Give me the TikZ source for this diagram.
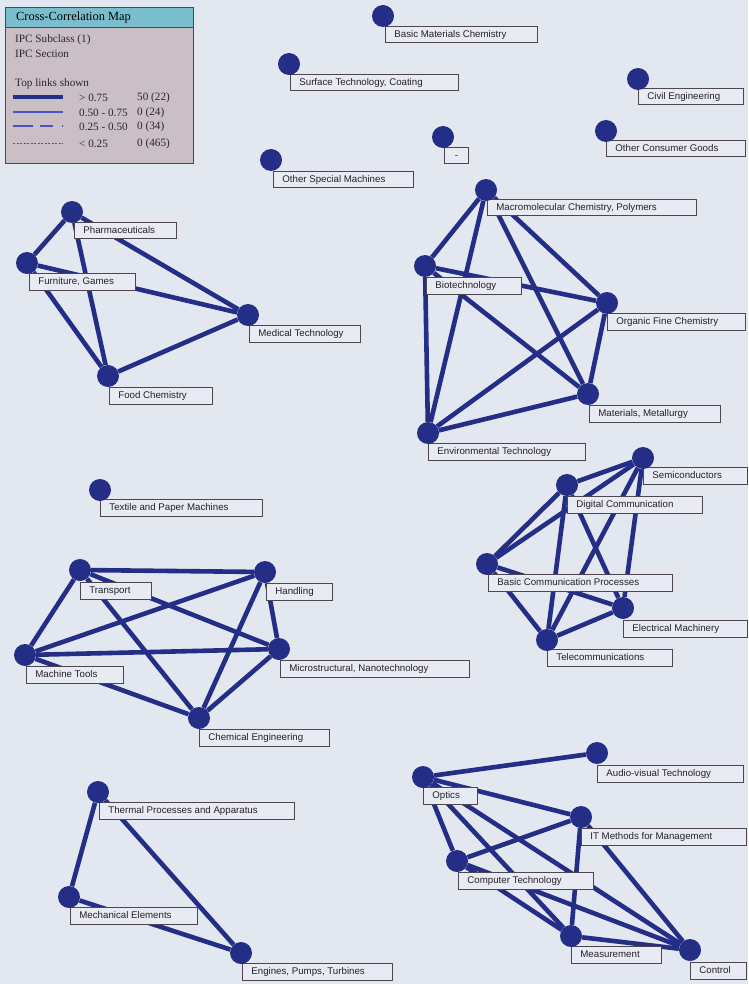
\documentclass[tikz,border=0pt]{standalone}
\usepackage{fontspec}
\setmainfont{Liberation Sans}
\newfontfamily\legfont{Liberation Serif}
\definecolor{bgc}{RGB}{227,231,240}
\definecolor{boxc}{RGB}{232,235,243}
\definecolor{navy}{RGB}{36,46,134}
\definecolor{bordc}{RGB}{78,70,76}
\definecolor{txtc}{RGB}{38,32,38}
\definecolor{legbg}{RGB}{201,191,197}
\definecolor{legtitle}{RGB}{122,190,206}
\definecolor{legtxt}{RGB}{48,36,48}
\definecolor{thinblue}{RGB}{72,82,200}
\pgfdeclarelayer{back}
\pgfdeclarelayer{links}
\pgfsetlayers{back,links,main}
\tikzset{
  hub/.style={circle, fill=navy, draw=none, minimum size=22pt, inner sep=0pt},
  lnk/.style={draw=navy, line width=4.6pt},
  lbl/.style={draw=bordc, line width=0.8pt, fill=boxc, anchor=north west,
    inner xsep=0pt, inner ysep=0pt, minimum height=16.5pt,
    text height=7.2pt, text depth=2pt, text=txtc,
    font=\fontsize{9.7}{11}\selectfont},
  legtext/.style={anchor=west, inner sep=0pt, text=legtxt,
    font=\legfont\fontsize{11.2}{12}\selectfont},
}
\newcommand\mylabel[5]{\node[lbl] (#4) at (#1,#2) {\makebox[#3pt][l]{\hspace{9pt}#5}};}
\begin{document}
\begin{tikzpicture}[x=1pt,y=-1pt]
\useasboundingbox (0,0) rectangle (748,984);
\begin{pgfonlayer}{back}
\fill[bgc] (0,0) rectangle (748,984);
\end{pgfonlayer}

% ---------- legend ----------
\filldraw[fill=legbg, draw=bordc, line width=0.8pt] (5,7) rectangle (193,163);
\filldraw[fill=legtitle, draw=bordc, line width=0.6pt] (5,7) rectangle (193,27);
\node[legtext, text={RGB:red,40;green,52;blue,96}, font=\legfont\fontsize{12.4}{13}\selectfont] (legT) at (16,17.5) {Cross-Correlation Map};
\node[legtext] (legA) at (15,40) {IPC Subclass (1)};
\node[legtext] (legB) at (15,54) {IPC Section};
\node[legtext] (legC) at (15,84) {Top links shown};
\node[legtext] (r1a) at (79,98) {> 0.75};
\node[legtext] (r1b) at (137,98) {50 (22)};
\node[legtext] (r2a) at (79,113) {0.50 - 0.75};
\node[legtext] (r2b) at (137,113) {0 (24)};
\node[legtext] (r3a) at (79,127) {0.25 - 0.50};
\node[legtext] (r3b) at (137,127) {0 (34)};
\node[legtext] (r4a) at (79,144) {< 0.25};
\node[legtext] (r4b) at (137,144) {0 (465)};
\draw[navy, line width=3.4pt] (13,97) -- (63,97);
\draw[thinblue, line width=1.2pt] (13,112) -- (63,112);
\draw[thinblue, line width=1.2pt, dash pattern=on 20pt off 7pt on 13pt off 9pt on 1.5pt off 5pt] (13,126) -- (63,126);
\draw[thinblue, line width=0.9pt, dash pattern=on 2pt off 1.5pt] (13,143) -- (63,143);

% ---------- labels ----------
\mylabel{385}{26}{152}{bmcl}{Basic Materials Chemistry}
\mylabel{290}{74}{168}{stcl}{Surface Technology, Coating}
\mylabel{638}{88}{105}{civl}{Civil Engineering}
\node[lbl] (dashl) at (444,147) {\makebox[24pt][c]{-}};
\mylabel{606}{140}{139}{ocgl}{Other Consumer Goods}
\mylabel{273}{171}{140}{osml}{Other Special Machines}
\mylabel{74}{222}{102}{phal}{Pharmaceuticals}
\mylabel{29}{273}{106}{furl}{Furniture, Games}
\mylabel{249}{325}{111}{medl}{Medical Technology}
\mylabel{109}{387}{103}{foodl}{Food Chemistry}
\mylabel{487}{199}{209}{macl}{Macromolecular Chemistry, Polymers}
\mylabel{426}{277}{95}{biol}{Biotechnology}
\mylabel{607}{313}{138}{ofcl}{Organic Fine Chemistry}
\mylabel{589}{405}{131}{matl}{Materials, Metallurgy}
\mylabel{428}{443}{157}{envl}{Environmental Technology}
\mylabel{643}{467}{104}{semil}{Semiconductors}
\mylabel{567}{496}{135}{digl}{Digital Communication}
\mylabel{488}{574}{184}{bcpl}{Basic Communication Processes}
\mylabel{623}{620}{124}{elml}{Electrical Machinery}
\mylabel{547}{649}{125}{tell}{Telecommunications}
\mylabel{100}{499}{162}{texl}{Textile and Paper Machines}
\mylabel{80}{582}{71}{tral}{Transport}
\mylabel{266}{583}{66}{hanl}{Handling}
\mylabel{280}{660}{189}{micl}{Microstructural, Nanotechnology}
\mylabel{26}{666}{97}{mtll}{Machine Tools}
\mylabel{199}{729}{130}{chel}{Chemical Engineering}
\mylabel{597}{765}{146}{audl}{Audio-visual Technology}
\mylabel{423}{787}{54}{optl}{Optics}
\mylabel{581}{828}{165}{itml}{IT Methods for Management}
\mylabel{458}{872}{135}{cmpl}{Computer Technology}
\mylabel{571}{946}{90}{meal}{Measurement}
\mylabel{690}{962}{56}{ctll}{Control}
\mylabel{99}{802}{195}{thml}{Thermal Processes and Apparatus}
\mylabel{70}{907}{127}{mecl}{Mechanical Elements}
\mylabel{242}{963}{150}{engl}{Engines, Pumps, Turbines}

% ---------- hubs ----------
\node[hub] (bmc) at (383,16) {};
\node[hub] (stc) at (289,64) {};
\node[hub] (civ) at (638,79) {};
\node[hub] (dash) at (443,137) {};
\node[hub] (ocg) at (606,131) {};
\node[hub] (osm) at (271,160) {};
\node[hub] (pha) at (72,212) {};
\node[hub] (fur) at (27,263) {};
\node[hub] (med) at (248,315) {};
\node[hub] (food) at (108,376) {};
\node[hub] (mac) at (486,190) {};
\node[hub] (bio) at (425,266) {};
\node[hub] (ofc) at (607,303) {};
\node[hub] (mat) at (588,394) {};
\node[hub] (env) at (428,433) {};
\node[hub] (semi) at (643,458) {};
\node[hub] (dig) at (567,485) {};
\node[hub] (bcp) at (487,564) {};
\node[hub] (elm) at (623,608) {};
\node[hub] (tel) at (547,640) {};
\node[hub] (tex) at (100,490) {};
\node[hub] (tra) at (80,570) {};
\node[hub] (han) at (265,572) {};
\node[hub] (mic) at (279,649) {};
\node[hub] (mtl) at (25,655) {};
\node[hub] (che) at (199,718) {};
\node[hub] (aud) at (597,753) {};
\node[hub] (opt) at (423,777) {};
\node[hub] (itm) at (581,817) {};
\node[hub] (cmp) at (457,861) {};
\node[hub] (mea) at (571,936) {};
\node[hub] (ctl) at (690,950) {};
\node[hub] (thm) at (98,792) {};
\node[hub] (mec) at (69,897) {};
\node[hub] (eng) at (241,953) {};

% ---------- links ----------
\begin{pgfonlayer}{links}
\foreach \a/\b in {pha/fur, pha/food, pha/med, fur/med, fur/food, food/med,
  mac/bio, mac/env, mac/ofc, mac/mat, bio/ofc, bio/mat, bio/env, ofc/env, ofc/mat, mat/env,
  semi/dig, semi/bcp, semi/tel, semi/elm, dig/bcp, dig/tel, dig/elm, bcp/elm, bcp/tel, tel/elm,
  tra/han, tra/mtl, tra/mic, tra/che, han/mtl, han/mic, han/che, mtl/mic, mtl/che, mic/che,
  opt/aud, opt/itm, opt/cmp, opt/mea, opt/ctl, cmp/itm, cmp/mea, cmp/ctl, itm/mea, itm/ctl, mea/ctl,
  thm/mec, thm/eng, mec/eng}
  \draw[lnk] (\a) -- (\b);
\end{pgfonlayer}
\end{tikzpicture}
\end{document}
